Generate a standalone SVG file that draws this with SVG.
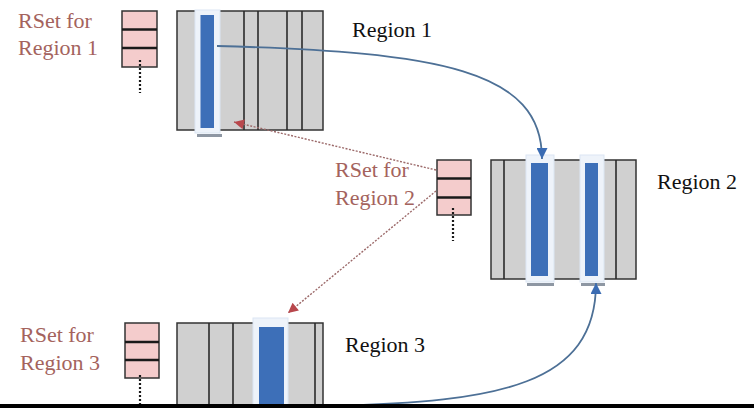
<svg xmlns="http://www.w3.org/2000/svg" width="754" height="408" viewBox="0 0 754 408">
<style>
.bg{fill:#ffffff}
.col{fill:#d0d0d0;stroke:#333;stroke-width:1.5}
.div{stroke:#2a2a2a;stroke-width:1.6}
.hl{fill:#eef3fa;stroke:#dbe6f3;stroke-width:1}
.bar{fill:#3d6fb8}
.under{fill:#8e97a3}
.rset{fill:#f4cccc;stroke:#333;stroke-width:1.5}
.rline{stroke:#1a1a1a;stroke-width:2.5}
.dots{stroke:#1a1a1a;stroke-width:2.2;stroke-dasharray:2 2}
.rtxt{font-size:22px;fill:#a4635d}
.ltxt{font-size:22px;fill:#111}
.blue{fill:none;stroke:#4d7096;stroke-width:1.8}
.red{fill:none;stroke:#9c6a6a;stroke-width:1.4;stroke-dasharray:2 1.5}
</style>
<defs>
<marker id="ab" viewBox="0 0 10 10" refX="10" refY="5" markerUnits="userSpaceOnUse" markerWidth="12" markerHeight="11" orient="auto">
<path d="M0,0 L10,5 L0,10 z" fill="#3b6cb3"/>
</marker>
<marker id="ar" viewBox="0 0 10 10" refX="10" refY="5" markerUnits="userSpaceOnUse" markerWidth="12" markerHeight="10" orient="auto">
<path d="M0,0 L10,5 L0,10 z" fill="#b8474c"/>
</marker>
</defs>
<rect class="bg" x="0" y="0" width="754" height="408"/>

<g id="region1">
<rect class="col" x="177" y="11" width="146" height="119"/>
<line class="div" x1="244" y1="11" x2="244" y2="130"/>
<line class="div" x1="258" y1="11" x2="258" y2="130"/>
<line class="div" x1="287" y1="11" x2="287" y2="130"/>
<line class="div" x1="302" y1="11" x2="302" y2="130"/>
<rect class="hl" x="195" y="10" width="25" height="123"/>
<rect class="bar" x="200.5" y="15" width="13.5" height="113"/>
<rect class="under" x="197" y="134" width="25" height="3"/>
<text class="ltxt" font-family="Liberation Serif, DejaVu Serif, serif" x="352" y="37">Region 1</text>
</g>

<g id="region2">
<rect class="col" x="491" y="160" width="145" height="119"/>
<line class="div" x1="504" y1="160" x2="504" y2="279"/>
<line class="div" x1="616" y1="160" x2="616" y2="279"/>
<rect class="hl" x="526" y="155" width="28" height="127"/>
<rect class="bar" x="531" y="163" width="17" height="113"/>
<rect class="hl" x="580" y="155" width="24" height="127"/>
<rect class="bar" x="585" y="163" width="13" height="113"/>
<rect class="under" x="527" y="283" width="27" height="3"/>
<rect class="under" x="581" y="283" width="24" height="3"/>
<text class="ltxt" font-family="Liberation Serif, DejaVu Serif, serif" x="657" y="189">Region 2</text>
</g>

<g id="region3">
<rect class="col" x="177" y="323" width="146" height="95"/>
<line class="div" x1="209" y1="323" x2="209" y2="408"/>
<line class="div" x1="233" y1="323" x2="233" y2="408"/>
<line class="div" x1="315" y1="323" x2="315" y2="408"/>
<rect class="hl" x="253" y="318" width="35" height="95"/>
<rect class="bar" x="259" y="327" width="25" height="85"/>
<text class="ltxt" font-family="Liberation Serif, DejaVu Serif, serif" x="345" y="352">Region 3</text>
</g>

<g id="rset1">
<rect class="rset" x="122" y="11" width="35" height="56"/>
<line class="rline" x1="122" y1="29.5" x2="157" y2="29.5"/>
<line class="rline" x1="122" y1="48" x2="157" y2="48"/>
<line class="dots" x1="140" y1="60" x2="140" y2="93"/>
<text class="rtxt" font-family="Liberation Serif, DejaVu Serif, serif" x="18" y="28">RSet for</text>
<text class="rtxt" font-family="Liberation Serif, DejaVu Serif, serif" x="18" y="55">Region 1</text>
</g>

<g id="rset2">
<rect class="rset" x="437" y="160" width="34" height="55"/>
<line class="rline" x1="437" y1="178.5" x2="471" y2="178.5"/>
<line class="rline" x1="437" y1="197.5" x2="471" y2="197.5"/>
<line class="dots" x1="453" y1="208" x2="453" y2="241"/>
<text class="rtxt" font-family="Liberation Serif, DejaVu Serif, serif" x="335" y="177">RSet for</text>
<text class="rtxt" font-family="Liberation Serif, DejaVu Serif, serif" x="335" y="205">Region 2</text>
</g>

<g id="rset3">
<rect class="rset" x="125" y="323" width="34" height="55"/>
<line class="rline" x1="125" y1="342" x2="159" y2="342"/>
<line class="rline" x1="125" y1="360" x2="159" y2="360"/>
<line class="dots" x1="140" y1="375" x2="140" y2="406"/>
<text class="rtxt" font-family="Liberation Serif, DejaVu Serif, serif" x="20" y="342">RSet for</text>
<text class="rtxt" font-family="Liberation Serif, DejaVu Serif, serif" x="20" y="370">Region 3</text>
</g>

<g id="connectors">
<path class="blue" d="M217,46 C440,52 542,70 542,159" marker-end="url(#ab)"/>
<path class="blue" d="M330,406 C500,402 596,385 596,283" marker-end="url(#ab)"/>
<path class="red" d="M436,170 L234,122" marker-end="url(#ar)"/>
<path class="red" d="M436,191 L288,313" marker-end="url(#ar)"/>
</g>

<rect x="0" y="404" width="754" height="4" fill="#000"/>
</svg>
